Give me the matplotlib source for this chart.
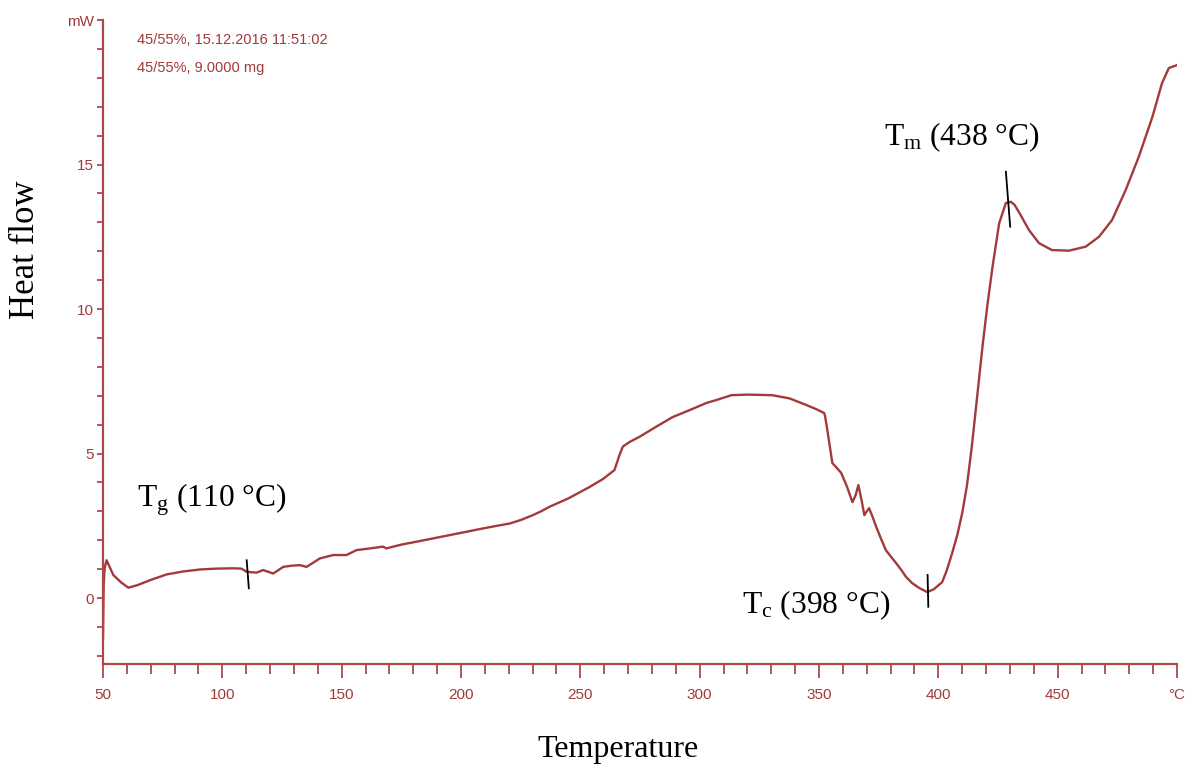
import matplotlib
matplotlib.use('Agg')
import matplotlib.pyplot as plt
from matplotlib.ticker import MultipleLocator, FixedLocator, FixedFormatter

# ---- data ----
temperature = [50.0, 50.3, 50.7, 51.5, 54.3, 57.5, 60.6, 64.5, 69.7, 76.7, 83.5, 90.6, 97.5,
               104.5, 108.0, 110.2, 114.3, 117.1, 121.3, 125.5, 129.0, 132.5, 135.3, 138.0,
               140.8, 146.4, 152.0, 156.2, 162.0, 167.3, 168.7, 175.0, 181.3, 188.0, 195.3,
               202.0, 209.2, 215.0, 220.4, 225.0, 230.1, 233.5, 237.1, 245.0, 253.8, 259.5,
               264.3, 265.4, 266.4, 267.8, 270.6, 274.8, 281.8, 288.6, 295.7, 302.8, 306.9,
               313.3, 320.0, 330.4, 337.6, 344.7, 349.0, 352.2, 352.6, 353.5, 355.6, 357.5,
               359.3, 361.8, 364.0, 365.3, 366.5, 367.8, 369.0, 370.0, 371.0, 372.5, 374.0,
               376.0, 378.0, 380.0, 382.3, 384.5, 386.5, 389.0, 392.0, 395.3, 398.0, 401.6,
               403.5, 405.8, 408.0, 410.0, 412.0, 414.0, 417.0, 418.5, 420.5, 422.7, 425.5,
               428.3, 430.4, 432.0, 434.0, 438.0, 442.2, 447.6, 454.8, 461.8, 467.3, 472.8,
               478.5, 484.0, 489.7, 493.7, 496.6, 500.0]
heat_flow = [-1.40, 0.50, 1.05, 1.31, 0.80, 0.55, 0.36, 0.45, 0.62, 0.82, 0.92, 0.99, 1.02,
             1.03, 1.02, 0.91, 0.88, 0.97, 0.85, 1.08, 1.12, 1.14, 1.08, 1.22,
             1.37, 1.49, 1.49, 1.66, 1.72, 1.78, 1.72, 1.85, 1.95, 2.06, 2.18,
             2.29, 2.41, 2.50, 2.58, 2.70, 2.87, 3.00, 3.16, 3.45, 3.84, 4.12,
             4.43, 4.70, 4.95, 5.24, 5.40, 5.58, 5.93, 6.26, 6.50, 6.75, 6.85,
             7.02, 7.04, 7.02, 6.91, 6.68, 6.53, 6.40, 6.27, 5.81, 4.67, 4.50,
             4.33, 3.84, 3.32, 3.55, 3.91, 3.40, 2.87, 3.00, 3.11, 2.80, 2.46,
             2.05, 1.66, 1.45, 1.21, 0.97, 0.73, 0.52, 0.35, 0.21, 0.30, 0.55,
             0.95, 1.56, 2.20, 2.94, 3.90, 5.22, 7.54, 8.70, 10.10, 11.46, 12.97,
             13.67, 13.71, 13.60, 13.32, 12.73, 12.28, 12.04, 12.02, 12.16, 12.50, 13.08,
             14.12, 15.27, 16.65, 17.81, 18.34, 18.44]

x_ticks = [50, 100, 150, 200, 250, 300, 350, 400, 450, 500]
x_tick_labels = ['50', '100', '150', '200', '250', '300', '350', '400', '450', '°C']
y_ticks = [0, 5, 10, 15, 20]
y_tick_labels = ['0', '5', '10', '15', 'mW']

header_lines = ['45/55%, 15.12.2016 11:51:02', '45/55%, 9.0000 mg']

# annotation texts and marker segments (temperature, heat flow)
ann_texts = ['T$_{\\mathrm{g}}$ (110 °C)', 'T$_{\\mathrm{c}}$ (398 °C)', 'T$_{\\mathrm{m}}$ (438 °C)']
ann_text_x = [64.2, 317.7, 377.2]
ann_text_y = [3.16, -0.52, 15.67]
mark_x0 = [110.2, 395.5, 428.3]
mark_y0 = [1.31, 0.80, 14.75]
mark_x1 = [111.1, 395.8, 430.1]
mark_y1 = [0.34, -0.30, 12.85]

RED = '#a23a3b'
AXC = '#b04848'

plt.rcParams['mathtext.fontset'] = 'custom'
plt.rcParams['mathtext.rm'] = 'Liberation Serif'
plt.rcParams['mathtext.it'] = 'Liberation Serif:italic'

W, H = 1185, 772
fig = plt.figure(figsize=(W / 100, H / 100), dpi=100)
ax = fig.add_axes([103 / W, 1 - 664 / H, (1177 - 103) / W, (664 - 20) / H])

ax.plot(temperature, heat_flow, color=RED, lw=1.7, solid_joinstyle='round')
ax.set_xlim(50, 500)
ax.set_ylim(-2.28, 20)

for s in ['top', 'right']:
    ax.spines[s].set_visible(False)
for s in ['left', 'bottom']:
    ax.spines[s].set_color(AXC)
    ax.spines[s].set_linewidth(1.6)

tick_font = 'Liberation Sans'
ax.xaxis.set_major_locator(FixedLocator(x_ticks))
ax.xaxis.set_major_formatter(FixedFormatter(x_tick_labels))
ax.xaxis.set_minor_locator(MultipleLocator(10))
ax.yaxis.set_major_locator(FixedLocator(y_ticks))
ax.yaxis.set_major_formatter(FixedFormatter(y_tick_labels))
ax.yaxis.set_minor_locator(MultipleLocator(1))

ax.tick_params(axis='x', which='major', length=10, width=1.3, color=AXC,
               labelcolor=RED, labelsize=11, pad=7)
ax.tick_params(axis='x', which='minor', length=7, width=1.3, color=AXC)
ax.tick_params(axis='y', which='both', length=4.5, width=1.3, color=AXC,
               labelcolor=RED, labelsize=11, pad=2)
for lab in ax.get_xticklabels() + ax.get_yticklabels():
    lab.set_family(tick_font)

# header text
fig.text(137 / W, 1 - 40 / H, header_lines[0], color=RED, fontsize=10.5,
         family=tick_font, ha='left', va='center')
fig.text(137 / W, 1 - 68 / H, header_lines[1], color=RED, fontsize=10.5,
         family=tick_font, ha='left', va='center')

# axis labels
fig.text(618 / W, 1 - 750 / H, 'Temperature', fontsize=23, family='Liberation Serif',
         ha='center', va='center')
fig.text(25 / W, 1 - 250 / H, 'Heat flow', fontsize=25, family='Liberation Serif',
         ha='center', va='center', rotation=90)

# annotations
for t, tx, ty, x0, y0, x1, y1 in zip(ann_texts, ann_text_x, ann_text_y,
                                     mark_x0, mark_y0, mark_x1, mark_y1):
    ax.text(tx, ty, t, fontsize=22.7, family='Liberation Serif', ha='left', va='baseline',
            color='black')
    ax.plot([x0, x1], [y0, y1], color='black', lw=1.3)

fig.savefig('out.png', dpi=100)
